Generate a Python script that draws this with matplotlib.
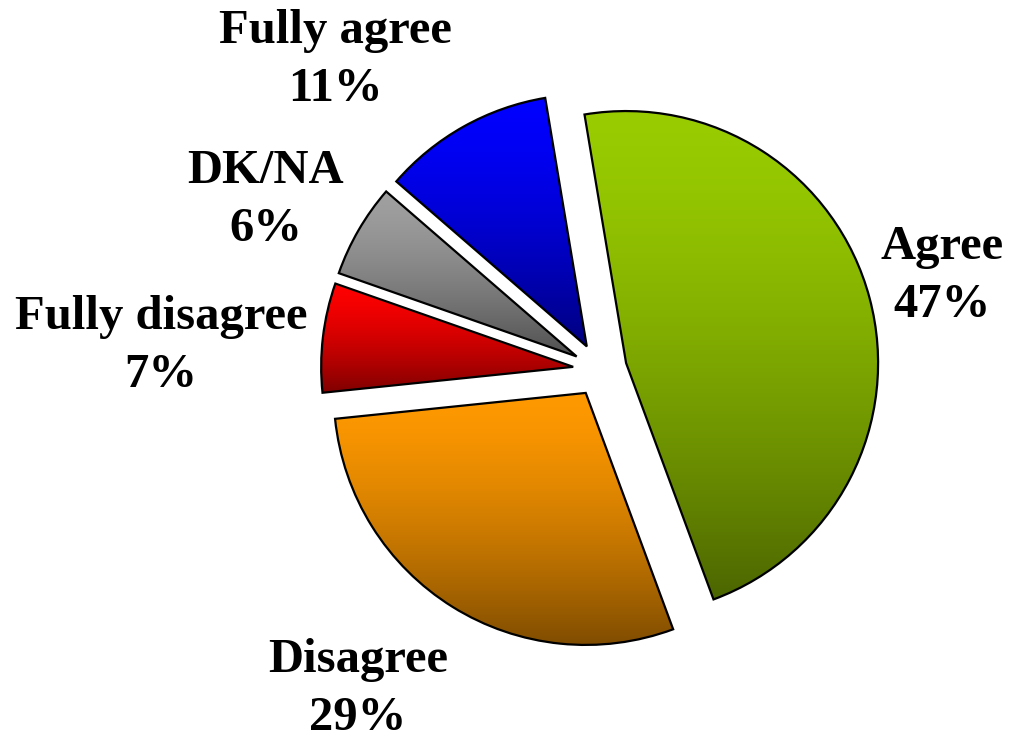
import numpy as np
import matplotlib.pyplot as plt
from matplotlib.colors import to_rgb

# survey answers, clockwise from the top
categories = ['Agree', 'Disagree', 'Fully disagree', 'DK/NA', 'Fully agree']
shares = [47, 29, 7, 6, 11]
colors = ['#99CC00', '#FF9900', '#FF0000', '#A0A0A0', '#0000FF']

# label centres in pixel space (x, y from top)
label_pos = [(942, 276), (358, 689), (161, 346), (266, 200), (335, 60)]

W, H = 1010, 737
fig = plt.figure(figsize=(W / 100, H / 100), dpi=100)
ax = fig.add_axes([0, 0, 1, 1])

cx, cy, r = 600, H - 370, 252
# explode is in data units (pixels here)
wedges, _ = ax.pie(shares, colors=colors, startangle=99.5, counterclock=False,
                   explode=[27] * len(shares), center=(cx, cy), radius=r,
                   frame=True,
                   wedgeprops=dict(edgecolor='black', linewidth=1.6))
ax.set_aspect('equal')
ax.axis('off')

# vertical gradient in each slice: full colour on top, half as bright at bottom
t = np.linspace(0, 1, 256) ** 1.5
for w, c in zip(wedges, colors):
    base = np.array(to_rgb(c))
    grad = base[None, :] * (1 - 0.5 * t)[:, None]
    img = np.repeat(grad[:, None, :], 2, axis=1)
    bb = w.get_path().get_extents(w.get_transform() - ax.transData)
    im = ax.imshow(img, extent=[bb.x0, bb.x1, bb.y0, bb.y1], origin='upper',
                   aspect='auto', zorder=w.get_zorder() - 0.1, interpolation='bilinear')
    im.set_clip_path(w)
    w.set_facecolor('none')

ax.set_xlim(0, W)
ax.set_ylim(0, H)

for name, val, (x, y) in zip(categories, shares, label_pos):
    ax.text(x, H - y, f'{name}\n{val}%', ha='center', va='center',
            multialignment='center', fontsize=35, fontweight='bold',
            family='Liberation Serif', linespacing=1.4)

fig.savefig('out.png', dpi=100)
